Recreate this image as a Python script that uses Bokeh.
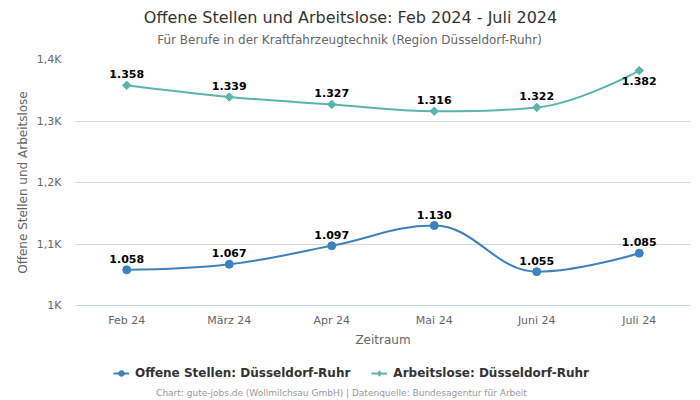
import math
from bokeh.plotting import figure
from bokeh.layouts import column
from bokeh.models import Range1d, FixedTicker, Legend, LegendItem, ColumnDataSource, Label
from bokeh.core.properties import value
from bokeh.embed import file_html
from bokeh.resources import INLINE

# ---- data ----
months = ["Feb 24", "März 24", "Apr 24", "Mai 24", "Juni 24", "Juli 24"]
offene_stellen = [1058, 1067, 1097, 1130, 1055, 1085]
arbeitslose = [1358, 1339, 1327, 1316, 1322, 1382]
y_ticks = [1000, 1100, 1200, 1300, 1400]
y_tick_labels = ["1K", "1,1K", "1,2K", "1,3K", "1,4K"]
label_below_offene = [False] * 6
label_below_arbeitslose = [False, False, False, False, False, True]

title_text = "Offene Stellen und Arbeitslose: Feb 2024 - Juli 2024"
subtitle_text = "Für Berufe in der Kraftfahrzeugtechnik (Region Düsseldorf-Ruhr)"
credits_text = "Chart: gute-jobs.de (Wollmilchsau GmbH) | Datenquelle: Bundesagentur für Arbeit"
name_offene = "Offene Stellen: Düsseldorf-Ruhr"
name_arbeitslose = "Arbeitslose: Düsseldorf-Ruhr"

BLUE = "#3d82be"
TEAL = "#5cb5ad"
FONT = "DejaVu Sans"
W = 700
TOP_H, MAIN_H, BOT_H = 50, 305, 45
BORDER_L, BORDER_R = 75, 10
NAN = float("nan")


def spline_segments(xs, ys, smoothing=1.5):
    """Highcharts-like spline control points, returned as bezier segments."""
    denom = smoothing + 1
    n = len(xs)
    left = [None] * n
    right = [None] * n
    for i in range(n):
        px, py = xs[i], ys[i]
        if 0 < i < n - 1:
            lx, ly = xs[i - 1], ys[i - 1]
            nx, ny = xs[i + 1], ys[i + 1]
            lcx = (smoothing * px + lx) / denom
            lcy = (smoothing * py + ly) / denom
            rcx = (smoothing * px + nx) / denom
            rcy = (smoothing * py + ny) / denom
            if rcx != lcx:
                corr = ((rcy - lcy) * (rcx - px)) / (rcx - lcx) + py - rcy
                lcy += corr
                rcy += corr
            if lcy > ly and lcy > py:
                lcy = max(ly, py)
                rcy = 2 * py - lcy
            elif lcy < ly and lcy < py:
                lcy = min(ly, py)
                rcy = 2 * py - lcy
            if rcy > ny and rcy > py:
                rcy = max(ny, py)
                lcy = 2 * py - rcy
            elif rcy < ny and rcy < py:
                rcy = min(ny, py)
                lcy = 2 * py - rcy
            left[i] = (lcx, lcy)
            right[i] = (rcx, rcy)
        else:
            left[i] = (px, py)
            right[i] = (px, py)
    seg = dict(x0=[], y0=[], x1=[], y1=[], cx0=[], cy0=[], cx1=[], cy1=[])
    for i in range(1, n):
        seg["x0"].append(xs[i - 1]); seg["y0"].append(ys[i - 1])
        seg["x1"].append(xs[i]); seg["y1"].append(ys[i])
        seg["cx0"].append(right[i - 1][0]); seg["cy0"].append(right[i - 1][1])
        seg["cx1"].append(left[i][0]); seg["cy1"].append(left[i][1])
    return seg


def blank_figure(h):
    # frame spans the same horizontal extent as the chart's plot area;
    # x/y ranges are in page pixels (y downward)
    f = figure(width=W, height=h, output_backend="svg", toolbar_location=None,
               x_range=Range1d(BORDER_L, W - BORDER_R), y_range=Range1d(h, 0),
               x_axis_location=None, y_axis_location=None,
               min_border_left=BORDER_L, min_border_right=BORDER_R,
               min_border_top=0, min_border_bottom=0)
    f.outline_line_color = None
    f.xgrid.visible = False
    f.ygrid.visible = False
    f.background_fill_color = "white"
    f.border_fill_color = "white"
    return f


# ---- header: title and subtitle ----
top = blank_figure(TOP_H)
top.add_layout(Label(x=350, y=17, text=title_text, text_align="center",
                     text_baseline="middle", text_font=FONT, text_font_size="16px",
                     text_color="#333333"))
top.add_layout(Label(x=349, y=39, text=subtitle_text, text_align="center",
                     text_baseline="middle", text_font=FONT, text_font_size="12px",
                     text_color="#666666"))

# ---- main chart ----
xs = list(range(len(months)))

p = figure(width=W, height=MAIN_H, output_backend="svg", toolbar_location=None,
           x_range=Range1d(-0.5, len(months) - 0.5), y_range=Range1d(1000, 1400),
           min_border_left=BORDER_L, min_border_right=BORDER_R,
           min_border_top=9, min_border_bottom=50)
p.outline_line_color = None
p.background_fill_color = "white"
p.border_fill_color = "white"

p.xaxis.ticker = FixedTicker(ticks=xs)
p.xaxis.major_label_overrides = {i: m for i, m in enumerate(months)}
p.yaxis.ticker = FixedTicker(ticks=y_ticks)
p.yaxis.major_label_overrides = {t: l for t, l in zip(y_ticks, y_tick_labels)}
for ax in (p.xaxis, p.yaxis):
    ax.major_tick_line_color = None
    ax.minor_tick_line_color = None
    ax.major_tick_out = 0
    ax.major_tick_in = 0
    ax.minor_tick_out = 0
    ax.major_label_text_font = FONT
    ax.major_label_text_font_size = "11px"
    ax.major_label_text_color = "#666666"
    ax.axis_label_text_font = FONT
    ax.axis_label_text_font_style = "normal"
    ax.axis_label_text_font_size = "12px"
    ax.axis_label_text_color = "#666666"
p.xaxis.axis_line_color = "#ccd6eb"
p.yaxis.axis_line_color = None
p.xaxis.axis_label = "Zeitraum"
p.yaxis.axis_label = "Offene Stellen und Arbeitslose"
p.xaxis.major_label_standoff = 8
p.yaxis.major_label_standoff = 14
p.xaxis.axis_label_standoff = 3
p.yaxis.axis_label_standoff = 4
p.xgrid.grid_line_color = None
p.ygrid.grid_line_color = "#d8d8d8"
p.ygrid.ticker = FixedTicker(ticks=y_ticks)


def fmt(v):
    return f"{v:,}".replace(",", ".")


# (values, colour, marker, size, marker angle, legend marker, legend size, label-below flags, name)
series = [
    (offene_stellen, BLUE, "circle", 8, 0.0, "circle", 8, label_below_offene, name_offene),
    (arbeitslose, TEAL, "square", 6, math.pi / 4, "diamond", 10, label_below_arbeitslose,
     name_arbeitslose),
]
for vals, color, marker, msize, mangle, lmarker, lsize, below, name in series:
    seg = spline_segments(xs, vals)
    p.bezier(source=ColumnDataSource(seg), x0="x0", y0="y0", x1="x1", y1="y1",
             cx0="cx0", cy0="cy0", cx1="cx1", cy1="cy1",
             line_color=color, line_width=2)
    p.scatter(xs, vals, marker=marker, size=msize, angle=mangle,
              fill_color=color, line_color=color)
    ab_x = [x for x, bl in zip(xs, below) if not bl]
    ab_v = [v for v, bl in zip(vals, below) if not bl]
    be_x = [x for x, bl in zip(xs, below) if bl]
    be_v = [v for v, bl in zip(vals, below) if bl]
    if ab_x:
        p.text(ab_x, ab_v, text=[fmt(v) for v in ab_v], text_align="center",
               text_baseline="bottom", y_offset=-7, text_font=value(FONT),
               text_font_size="11px", text_font_style="bold", text_color="#000000")
    if be_x:
        p.text(be_x, be_v, text=[fmt(v) for v in be_v], text_align="center",
               text_baseline="top", y_offset=6, text_font=value(FONT),
               text_font_size="11px", text_font_style="bold", text_color="#000000")

# ---- footer: legend and credits ----
bot = blank_figure(BOT_H)
items = []
for vals, color, marker, msize, mangle, lmarker, lsize, below, name in series:
    # legend-only renderers (no visible data)
    ln = bot.line(x=[NAN], y=[NAN], line_color=color, line_width=2)
    sc = bot.scatter(x=[NAN], y=[NAN], marker=lmarker, size=lsize,
                     fill_color=color, line_color=color)
    items.append(LegendItem(label=name, renderers=[ln, sc]))
legend = Legend(items=items, orientation="horizontal", location=(113 - BORDER_L, 20),
                label_text_font=FONT, label_text_font_size="12px",
                label_text_font_style="bold", label_text_color="#333333",
                glyph_width=16, glyph_height=14, label_height=14, label_standoff=6,
                spacing=21, padding=0, margin=0, border_line_color=None,
                background_fill_alpha=0)
bot.add_layout(legend, "center")
bot.add_layout(Label(x=341, y=37, text=credits_text, text_align="center",
                     text_baseline="middle", text_font=FONT, text_font_size="9px",
                     text_color="#999999"))

layout = column(top, p, bot, spacing=0)
open("out.html", "w").write(file_html(layout, INLINE))
